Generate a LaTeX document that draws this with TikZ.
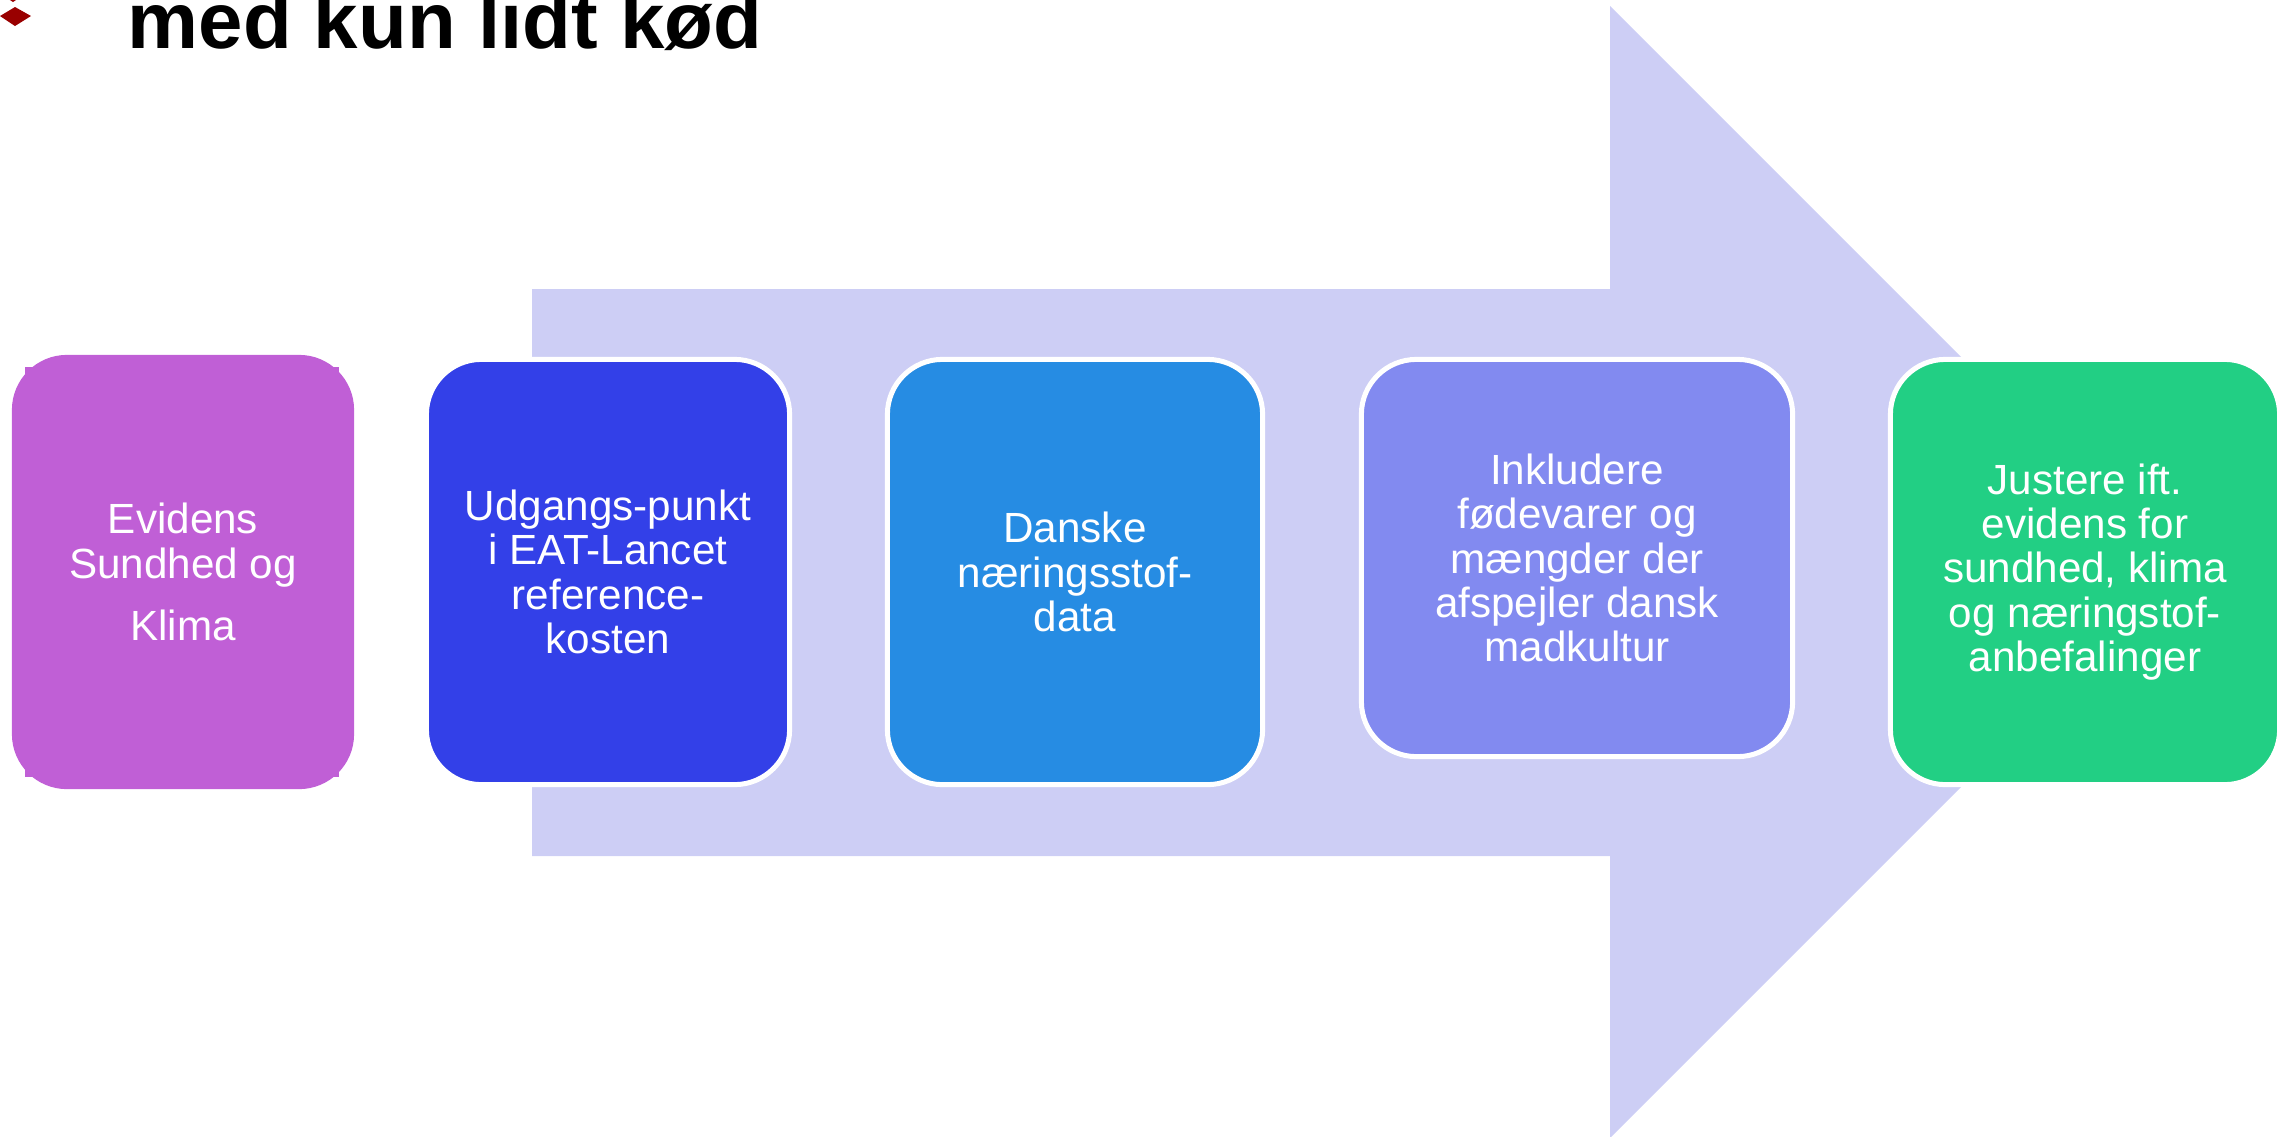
\documentclass[tikz,border=0pt]{standalone}
\usepackage{fontspec}
\setmainfont{Liberation Sans}
\definecolor{bulletred}{RGB}{153,0,0}
\definecolor{arrowlilac}{RGB}{205,206,245}
\definecolor{evidenspurple}{RGB}{192,95,214}
\definecolor{eatblue}{RGB}{51,64,232}
\definecolor{dataskyblue}{RGB}{38,140,227}
\definecolor{kulturblue}{RGB}{130,138,240}
\definecolor{justergreen}{RGB}{34,207,132}

\begin{document}
\begin{tikzpicture}[x=0.01cm, y=-0.01cm,
  stepbox/.style={rounded corners=0.55cm, inner sep=0pt, align=center, text=white,
    font=\fontsize{12}{12.6}\selectfont},
  framedbox/.style={stepbox, draw=white, line width=0.05cm}]
  \clip (0,0) rectangle (2292,1136);
  \useasboundingbox (0,0) rectangle (2292,1136);
  \fill[bulletred] (13,-17) -- (28,-8) -- (13,2) -- (-2,-8) -- cycle;
  \fill[bulletred] (0,16) -- (15,7) -- (31,16) -- (15,26) -- cycle;
  \node[anchor=base west, inner sep=0pt, font=\bfseries\fontsize{22.7}{27}\selectfont] (titel) at (127,48) {med kun lidt kød};
  \fill[arrowlilac] (532,289) -- (1610,289) -- (1610,6) -- (2176,572) -- (1610,1138) -- (1610,856) -- (532,856) -- cycle;
  \fill[evidenspurple] (25,367) rectangle (339,777);
  \node[stepbox, fill=evidenspurple, minimum width=3.42cm, minimum height=4.34cm] (evidens) at (183,572)
    {Evidens\\ Sundhed og\\[0.18cm] Klima};
  \node[framedbox, fill=eatblue, minimum width=3.63cm, minimum height=4.25cm] (eat) at (608,572)
    {Udgangs-punkt\\ i EAT-Lancet\\ reference-\\ kosten};
  \node[framedbox, fill=dataskyblue, minimum width=3.75cm, minimum height=4.25cm] (data) at (1075,572)
    {Danske\\ næringsstof-\\ data};
  \node[framedbox, fill=kulturblue, minimum width=4.31cm, minimum height=3.97cm] (kultur) at (1577,558)
    {Inkludere\\ fødevarer og\\ mængder der\\ afspejler dansk\\ madkultur};
  \node[framedbox, fill=justergreen, minimum width=3.89cm, minimum height=4.25cm] (juster) at (2085,572)
    {Justere ift.\\ evidens for\\ sundhed, klima\\ og næringstof-\\ anbefalinger};
\end{tikzpicture}
\end{document}
